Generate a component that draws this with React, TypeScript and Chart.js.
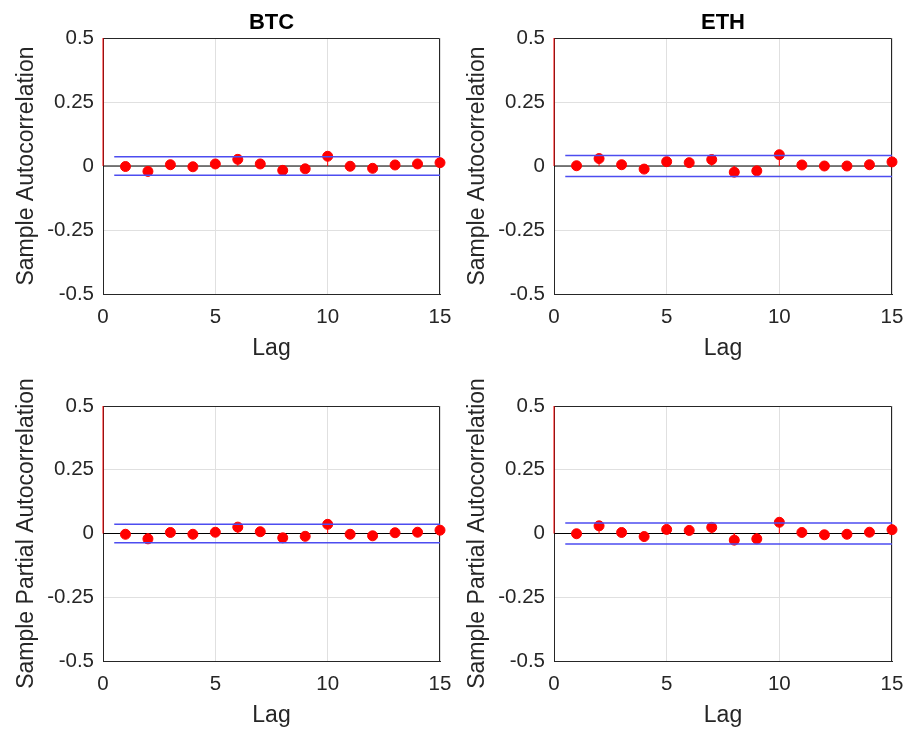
import React, { useEffect, useRef } from "react";
import { Chart, registerables } from "chart.js";

Chart.register(...registerables);

// ---- data ----
const lags = [0, 1, 2, 3, 4, 5, 6, 7, 8, 9, 10, 11, 12, 13, 14, 15];
const btcAcf = [1, -0.002, -0.021, 0.005, -0.003, 0.008, 0.026, 0.008, -0.017, -0.011, 0.038, -0.001, -0.009, 0.004, 0.008, 0.013];
const ethAcf = [1, 0.001, 0.029, 0.005, -0.012, 0.017, 0.013, 0.025, -0.024, -0.019, 0.044, 0.004, 0.0, 0.0, 0.005, 0.016];
const btcPacf = [1, -0.003, -0.021, 0.004, -0.003, 0.005, 0.025, 0.007, -0.017, -0.011, 0.036, -0.003, -0.009, 0.003, 0.005, 0.013];
const ethPacf = [1, -0.001, 0.030, 0.004, -0.012, 0.016, 0.012, 0.024, -0.026, -0.021, 0.044, 0.004, -0.005, -0.003, 0.005, 0.015];
const btcBound = 0.036;
const ethBound = 0.041;
const boundStart = 0.5;
const xTicks = [0, 5, 10, 15];
const xTickLabels = ["0", "5", "10", "15"];
const yTicks = [-0.5, -0.25, 0, 0.25, 0.5];
const yTickLabels = ["-0.5", "-0.25", "0", "0.25", "0.5"];
const titles = ["BTC", "ETH"];
const yLabels = ["Sample Autocorrelation", "Sample Partial Autocorrelation"];
const xLabel = "Lag";

const FONT = "'Liberation Sans', Arial, Helvetica, sans-serif";
const AXIS_COLOR = "#262626";
const GRID_COLOR = "#e0e0e0";

const boxPlugin = {
  id: "boxFrame",
  beforeDatasetsDraw(chart: any) {
    const { ctx, chartArea: a } = chart;
    ctx.save();
    ctx.strokeStyle = AXIS_COLOR;
    ctx.lineWidth = 1;
    const t = Math.round(a.top) + 0.5;
    const r = Math.round(a.right) - 0.5;
    ctx.beginPath();
    ctx.moveTo(a.left, t);
    ctx.lineTo(r, t);
    ctx.lineTo(r, a.bottom);
    ctx.stroke();
    ctx.restore();
  },
};

type PanelProps = {
  left: number;
  top: number;
  width: number;
  height: number;
  values: number[];
  bound: number;
  title?: string;
  yLabel: string;
  yAxisW: number;
  xAxisH: number;
  padTop: number;
  padRight: number;
  xTitlePadBottom: number;
};

function Panel(p: PanelProps) {
  const ref = useRef<HTMLCanvasElement | null>(null);
  useEffect(() => {
    if (!ref.current) return;
    const stems: any[] = [];
    lags.forEach((l, i) => {
      stems.push({ x: l, y: 0 }, { x: l, y: p.values[i] }, { x: l, y: null });
    });
    const markers = lags.map((l, i) => ({ x: l, y: p.values[i] }));
    const xMax = lags[lags.length - 1];
    const chart = new Chart(ref.current, {
      type: "scatter",
      data: {
        datasets: [
          {
            data: [{ x: boundStart, y: p.bound }, { x: xMax, y: p.bound }],
            showLine: true,
            borderColor: "#4d4df0",
            borderWidth: 1.5,
            pointRadius: 0,
            clip: 2,
          } as any,
          {
            data: [{ x: boundStart, y: -p.bound }, { x: xMax, y: -p.bound }],
            showLine: true,
            borderColor: "#4d4df0",
            borderWidth: 1.5,
            pointRadius: 0,
            clip: 2,
          },
          {
            data: markers,
            showLine: false,
            pointRadius: 5,
            pointBackgroundColor: "#ff0000",
            pointBorderColor: "#ff0000",
            pointBorderWidth: 1,
            clip: { left: 8, right: 8, top: 8, bottom: 8 },
          },
          {
            data: stems,
            showLine: true,
            spanGaps: false,
            borderColor: "#ff0000",
            borderWidth: 1,
            pointRadius: 0,
            clip: { left: 1, right: 1, top: 0, bottom: 0 },
          },
          {
            data: [{ x: 0, y: 0 }, { x: xMax, y: 0 }],
            showLine: true,
            borderColor: "#000000",
            borderWidth: 1.2,
            pointRadius: 0,
            clip: 1,
          },
        ] as any,
      },
      options: {
        responsive: false,
        animation: false,
        devicePixelRatio: 1,
        layout: { padding: { top: p.padTop, right: p.padRight, left: 0, bottom: 0 } },
        plugins: {
          legend: { display: false },
          tooltip: { enabled: false },
          title: {
            display: !!p.title,
            text: p.title || "",
            fullSize: false,
            color: "#000000",
            font: { family: FONT, size: 22, weight: "bold", lineHeight: 1.2 },
            padding: { top: 10, bottom: 1.6 },
          },
        },
        scales: {
          x: {
            type: "linear",
            min: 0,
            max: 15,
            afterBuildTicks: (s: any) => {
              s.ticks = xTicks.map((v) => ({ value: v }));
            },
            afterFit: (s: any) => {
              s.height = p.xAxisH;
              s.paddingLeft = 0;
              s.paddingRight = 0;
            },
            ticks: {
              padding: 11,
              color: AXIS_COLOR,
              maxRotation: 0,
              font: { family: FONT, size: 20.5 },
              callback: (_v: any, i: number) => xTickLabels[i],
            },
            grid: { color: GRID_COLOR, drawTicks: false },
            border: { color: AXIS_COLOR, width: 1 },
            title: {
              display: true,
              text: xLabel,
              color: AXIS_COLOR,
              font: { family: FONT, size: 23, lineHeight: 1.2 },
              padding: { top: 0, bottom: p.xTitlePadBottom },
            },
          },
          y: {
            type: "linear",
            min: -0.5,
            max: 0.5,
            afterBuildTicks: (s: any) => {
              s.ticks = yTicks.map((v) => ({ value: v }));
            },
            afterFit: (s: any) => {
              s.width = p.yAxisW;
              s.paddingTop = 0;
              s.paddingBottom = 0;
            },
            ticks: {
              padding: 9,
              color: AXIS_COLOR,
              font: { family: FONT, size: 20.5 },
              callback: (_v: any, i: number) => yTickLabels[i],
            },
            grid: { color: GRID_COLOR, drawTicks: false },
            border: { color: AXIS_COLOR, width: 1 },
            title: {
              display: true,
              text: p.yLabel,
              color: AXIS_COLOR,
              font: { family: FONT, size: 23, lineHeight: 1.2 },
              padding: { top: 13, bottom: 0 },
            },
          },
        },
      } as any,
      plugins: [boxPlugin],
    });
    return () => chart.destroy();
  }, []);
  return (
    <canvas
      ref={ref}
      width={p.width}
      height={p.height}
      style={{
        position: "absolute",
        left: p.left,
        top: p.top,
        width: p.width,
        height: p.height,
        display: "block",
      }}
    />
  );
}

export default function App() {
  return (
    <div
      style={{
        position: "absolute",
        left: 0,
        top: 0,
        width: 912,
        height: 731,
        background: "#ffffff",
        overflow: "hidden",
      }}
    >
      <Panel left={0} top={0} width={456} height={365} values={btcAcf} bound={btcBound}
        title={titles[0]} yLabel={yLabels[0]} yAxisW={103} xAxisH={71} padTop={0} padRight={16} xTitlePadBottom={3} />
      <Panel left={451} top={0} width={461} height={365} values={ethAcf} bound={ethBound}
        title={titles[1]} yLabel={yLabels[0]} yAxisW={103} xAxisH={71} padTop={0} padRight={20} xTitlePadBottom={3} />
      <Panel left={0} top={365} width={456} height={366} values={btcPacf} bound={btcBound}
        yLabel={yLabels[1]} yAxisW={103} xAxisH={70} padTop={41} padRight={16} xTitlePadBottom={2} />
      <Panel left={451} top={365} width={461} height={366} values={ethPacf} bound={ethBound}
        yLabel={yLabels[1]} yAxisW={103} xAxisH={70} padTop={41} padRight={20} xTitlePadBottom={2} />
    </div>
  );
}
